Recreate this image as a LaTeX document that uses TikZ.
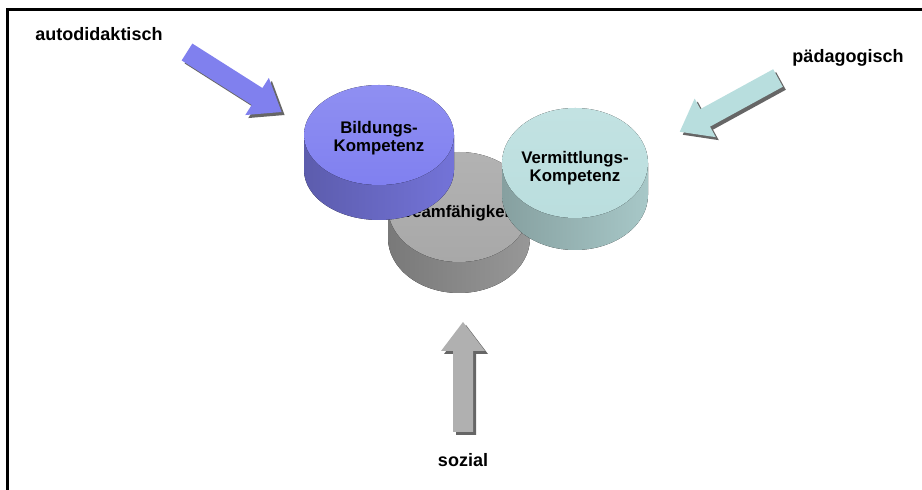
\documentclass[tikz,border=0pt]{standalone}
\usepackage{fontspec}
\setmainfont{Liberation Sans}
\usepackage{xcolor}
\usepackage{tikz}

\definecolor{discpurple}{RGB}{128,128,240}
\definecolor{disccyan}{RGB}{186,222,222}
\definecolor{discgray}{RGB}{168,168,168}
\definecolor{arrowpurple}{RGB}{128,128,238}
\definecolor{arrowcyan}{RGB}{184,222,222}
\definecolor{arrowgray}{RGB}{176,176,176}

\begin{document}
\begin{tikzpicture}[x=1pt,y=1pt,
    disctext/.style={align=center,font=\bfseries\fontsize{16.8}{17.5}\selectfont},
    labeltext/.style={font=\bfseries\fontsize{18}{20}\selectfont}]
  \useasboundingbox (0,0) rectangle (922,490);
  \draw[line width=3pt] (7,0) -- (7,480.5) -- (922,480.5);
  % discs, back to front
  \foreach \name/\cx/\cy/\rx/\ry/\depth/\ty/\col/\txt in
      {team/459/283/71/55/31/277/discgray/Teamfähigkeit,
       bildung/379/355/75/50/35/352/discpurple/{Bildungs-\\Kompetenz},
       vermittlung/575/327/73/55/32/322/disccyan/{Vermittlungs-\\Kompetenz}}
  {
    \fill[left color=\col!72!black, right color=\col!90!black]
      (\cx-\rx,\cy) -- ++(0,-\depth)
      arc[start angle=180,end angle=360,x radius=\rx,y radius=\ry]
      -- ++(0,\depth) -- cycle;
    \fill[top color=\col!88!white, bottom color=\col] (\cx,\cy) ellipse[x radius=\rx,y radius=\ry];
    \node[disctext] (\name) at (\cx,\ty) {\txt};
  }
  % block arrows with shadow
  \foreach \name/\px/\py/\ang/\len/\col in
      {autoarrow/187/438/-32.4/112/arrowpurple,
       paedarrow/778/412/-151.3/112/arrowcyan,
       sozarrow/463/58/90/110/arrowgray}
  {
    \foreach \dx/\dy/\fc in {3/-3/black!60,0/0/\col}
      \fill[\fc,shift={(\px+\dx,\py+\dy)},rotate=\ang]
        (0,10) -- (\len-29,10) -- (\len-29,22) -- (\len,0)
        -- (\len-29,-22) -- (\len-29,-10) -- (0,-10) -- cycle;
    \coordinate (\name) at (\px,\py);
  }
  \node[labeltext] (autodidaktisch) at (99,456) {autodidaktisch};
  \node[labeltext] (paedagogisch) at (848,432) {pädagogisch};
  \node[labeltext] (sozial) at (463,30) {sozial};
\end{tikzpicture}
\end{document}
